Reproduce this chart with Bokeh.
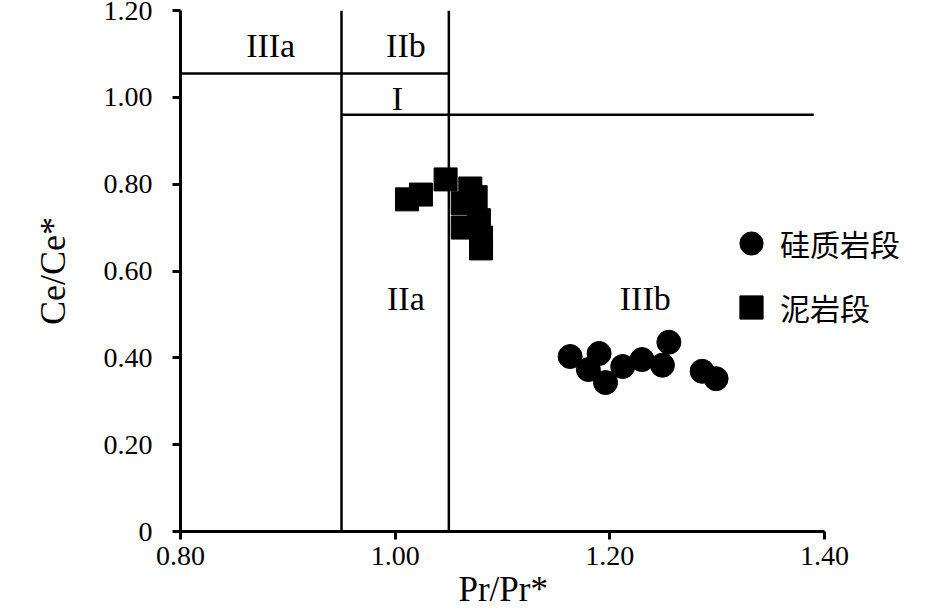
from bokeh.plotting import figure
from bokeh.models import Range1d, FixedTicker, Legend, LegendItem, Title
from bokeh.core.properties import value
from bokeh.embed import file_html
from bokeh.resources import INLINE

# ---- data ----
siliceous_x = [1.163, 1.180, 1.190, 1.196, 1.212, 1.230, 1.249, 1.255, 1.286, 1.299]
siliceous_y = [0.403, 0.373, 0.410, 0.343, 0.380, 0.396, 0.383, 0.436, 0.369, 0.352]

mudstone_x = [1.011, 1.024, 1.047, 1.063, 1.070, 1.075, 1.063, 1.078, 1.080, 1.080]
mudstone_y = [0.765, 0.776, 0.811, 0.756, 0.790, 0.770, 0.700, 0.717, 0.677, 0.652]

series_names = ["硅质岩段", "泥岩段"]

x_ticks = [0.80, 1.00, 1.20, 1.40]
x_tick_labels = ["0.80", "1.00", "1.20", "1.40"]
y_ticks = [0, 0.2, 0.4, 0.6, 0.8, 1.0, 1.2]
y_tick_labels = ["0", "0.20", "0.40", "0.60", "0.80", "1.00", "1.20"]

# field boundaries
bound_x0 = [0.95, 1.05, 0.80, 0.95]
bound_x1 = [0.95, 1.05, 1.05, 1.39]
bound_y0 = [0.0, 0.0, 1.055, 0.96]
bound_y1 = [1.2, 1.2, 1.055, 0.96]

region_names = ["IIIa", "IIb", "I", "IIa", "IIIb"]
region_x = [0.884, 1.010, 1.002, 1.010, 1.233]
region_y = [1.12, 1.12, 0.998, 0.537, 0.537]

SERIF = "'Liberation Serif'"

# layout (pixels)
W, H = 940, 616
LEFT, TOP, FRAME_W_AXIS, FRAME_H = 180, 10, 644, 521
x_end = 0.8 + (W - LEFT) * (1.4 - 0.8) / FRAME_W_AXIS   # frame extends past 1.40 to hold the legend

p = figure(width=W, height=H, output_backend="svg", toolbar_location=None,
           x_range=Range1d(0.8, x_end), y_range=Range1d(0, 1.2),
           min_border_left=LEFT, min_border_right=0, min_border_top=TOP,
           min_border_bottom=H - TOP - FRAME_H)
p.outline_line_color = None
p.xgrid.visible = False
p.ygrid.visible = False
p.background_fill_color = "white"
p.border_fill_color = "white"

# boundaries
p.segment(x0=bound_x0, y0=bound_y0, x1=bound_x1, y1=bound_y1, line_color="black", line_width=2.5)

# region labels
p.text(x=region_x, y=region_y, text=region_names, text_font=value("Liberation Serif"),
       text_font_size="34px", text_align="center", text_baseline="middle", text_color="black")

circ = p.scatter(siliceous_x, siliceous_y, marker="circle", size=24, fill_color="black", line_color="black")
sq = p.scatter(mudstone_x, mudstone_y, marker="square", size=23, fill_color="black", line_color="black")

for ax in (p.xaxis[0], p.yaxis[0]):
    ax.axis_line_width = 3
    ax.major_tick_line_width = 3
    ax.major_tick_out = 8
    ax.major_tick_in = 0
    ax.minor_tick_line_color = None
    ax.major_label_text_font = SERIF
    ax.major_label_text_font_size = "28px"
    ax.major_label_text_color = "black"
    ax.axis_line_color = "black"
    ax.major_tick_line_color = "black"

p.xaxis.ticker = FixedTicker(ticks=x_ticks)
p.xaxis.major_label_overrides = dict(zip(x_ticks, x_tick_labels))
p.xaxis.major_label_standoff = 7
p.xaxis.bounds = (0.8, 1.4)

p.yaxis.ticker = FixedTicker(ticks=y_ticks)
p.yaxis.major_label_overrides = dict(zip(y_ticks, y_tick_labels))
p.yaxis.major_label_standoff = 20
p.yaxis.axis_label = "Ce/Ce*"
p.yaxis.axis_label_text_font = SERIF
p.yaxis.axis_label_text_font_size = "36px"
p.yaxis.axis_label_text_font_style = "normal"
p.yaxis.axis_label_text_color = "black"
p.yaxis.axis_label_standoff = 28

xtitle = Title(text="Pr/Pr*", align="left", offset=278, text_font=SERIF, text_font_size="35px",
               text_font_style="normal", text_color="black", standoff=0)
p.add_layout(xtitle, "below")

legend = Legend(items=[LegendItem(label=series_names[0], renderers=[circ]),
                       LegendItem(label=series_names[1], renderers=[sq])],
                location=(542, 195), glyph_width=58, glyph_height=58, spacing=6,
                padding=0, margin=0, label_standoff=0,
                label_text_font="'Noto Sans CJK SC'", label_text_font_size="30px",
                label_text_color="black",
                border_line_alpha=0, background_fill_alpha=0)
p.add_layout(legend)

open("out.html", "w").write(file_html(p, INLINE))
